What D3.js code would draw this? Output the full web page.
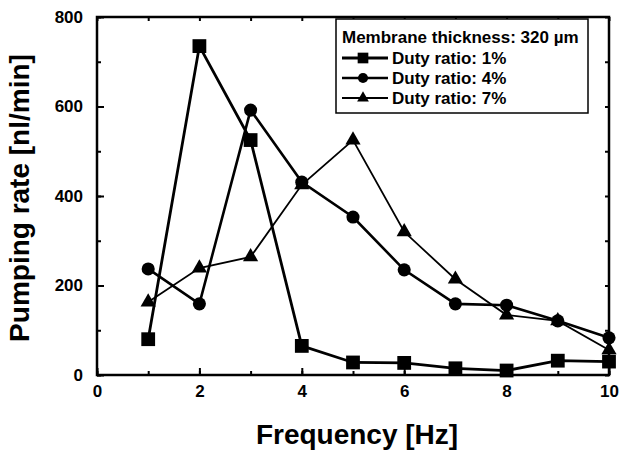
<!DOCTYPE html>
<html>
<head>
<meta charset="utf-8">
<script src="https://cdn.jsdelivr.net/npm/d3@7"></script>
<style>
  body { margin: 0; background: #fff; }
  text { font-family: "Liberation Sans", Arial, sans-serif; font-weight: bold; fill: #000; }
</style>
</head>
<body>
<div id="chart"></div>
<script>
// frequency values [Hz]
var frequency = [1, 2, 3, 4, 5, 6, 7, 8, 9, 10];
// pumping rate [nl/min] for each duty ratio
var duty1 = [80, 735, 525, 65, 28, 27, 15, 10, 32, 30];
var duty4 = [237, 159, 592, 431, 353, 235, 159, 156, 121, 83];
var duty7 = [163, 239, 264, 425, 525, 320, 214, 134, 121, 56];
var seriesNames = ["Duty ratio: 1%", "Duty ratio: 4%", "Duty ratio: 7%"];
var legendTitle = "Membrane thickness: 320 \u00b5m";
var xTicks = [0, 2, 4, 6, 8, 10];
var yTicks = [0, 200, 400, 600, 800];

var margin = { top: 17, right: 11, bottom: 75, left: 97 };
var width = 620 - margin.left - margin.right,
    height = 450 - margin.top - margin.bottom;

var svg = d3.select("#chart").append("svg")
    .attr("width", 620)
    .attr("height", 450)
  .append("g")
    .attr("transform", "translate(" + margin.left + "," + margin.top + ")");

var x = d3.scaleLinear().domain([0, 10]).range([0, width]);
var y = d3.scaleLinear().domain([0, 800]).range([height, 0]);

// inward ticks, minor every 1 Hz / 100 nl/min
var minorX = d3.range(0, 10.01, 1), minorY = d3.range(0, 801, 100);
function tickAxis(axis, vals, size, tf) {
  var g = svg.append("g").attr("transform", tf)
    .call(axis.tickValues(vals).tickSize(size).tickFormat(""));
  g.select(".domain").remove();
  g.selectAll("line").attr("stroke", "#000").attr("stroke-width", 2);
  return g;
}
tickAxis(d3.axisTop(x), minorX, 4, "translate(0," + height + ")");
tickAxis(d3.axisBottom(x), minorX, 4, "translate(0,0)");
tickAxis(d3.axisRight(y), minorY, 4, "translate(0,0)");
tickAxis(d3.axisLeft(y), minorY, 4, "translate(" + width + ",0)");
tickAxis(d3.axisTop(x), xTicks, 7, "translate(0," + height + ")");
tickAxis(d3.axisRight(y), yTicks, 7, "translate(0,0)");

// tick labels
var xg = svg.append("g").attr("transform", "translate(0," + height + ")")
  .call(d3.axisBottom(x).tickValues(xTicks).tickSize(0).tickPadding(10));
xg.select(".domain").remove();
xg.selectAll("text").style("font-size", "17px").style("font-family", "Liberation Sans, Arial").style("font-weight", "bold");

var yg = svg.append("g")
  .call(d3.axisLeft(y).tickValues(yTicks).tickSize(0).tickPadding(14));
yg.select(".domain").remove();
yg.selectAll("text").style("font-size", "17px").style("font-family", "Liberation Sans, Arial").style("font-weight", "bold");

// frame
svg.append("rect")
  .attr("width", width).attr("height", height)
  .attr("fill", "none").attr("stroke", "#000").attr("stroke-width", 2.5);

// axis titles
svg.append("text")
  .attr("x", width / 2 + 4).attr("y", height + 69)
  .attr("text-anchor", "middle")
  .style("font-size", "28px")
  .text("Frequency [Hz]");
svg.append("text")
  .attr("transform", "translate(-68," + (height / 2 + 2) + ") rotate(-90)")
  .attr("text-anchor", "middle")
  .style("font-size", "28px")
  .text("Pumping rate [nl/min]");

var allSeries = [duty1, duty4, duty7];
var shapes = [d3.symbolSquare, d3.symbolCircle, d3.symbolTriangle];
var sizes = [190, 135, 100];
var widths = [2.8, 2.6, 1.8];

var line = d3.line()
  .x(function(d, i) { return x(frequency[i]); })
  .y(function(d) { return y(d); });

allSeries.forEach(function(s, k) {
  svg.append("path").datum(s)
    .attr("d", line)
    .attr("fill", "none").attr("stroke", "#000").attr("stroke-width", widths[k]);
  svg.selectAll(".pt" + k).data(s).enter().append("path")
    .attr("class", "pt" + k)
    .attr("transform", function(d, i) { return "translate(" + x(frequency[i]) + "," + y(d) + ")"; })
    .attr("d", d3.symbol().type(shapes[k]).size(sizes[k]))
    .attr("fill", "#000");
});

// legend
var lg = svg.append("g").attr("transform", "translate(" + (336 - margin.left) + "," + (19 - margin.top) + ")");
lg.append("rect").attr("width", 252).attr("height", 94)
  .attr("fill", "#fff").attr("stroke", "#000").attr("stroke-width", 1.5);
lg.append("text").attr("x", 6).attr("y", 24).style("font-size", "17px").text(legendTitle);
seriesNames.forEach(function(name, k) {
  var cy = 39 + k * 20;
  lg.append("line").attr("x1", 6).attr("x2", 52).attr("y1", cy).attr("y2", cy)
    .attr("stroke", "#000").attr("stroke-width", widths[k]);
  lg.append("path").attr("transform", "translate(27," + cy + ")")
    .attr("d", d3.symbol().type(shapes[k]).size(sizes[k] * 0.6))
    .attr("fill", "#000");
  lg.append("text").attr("x", 56).attr("y", cy + 6).style("font-size", "17px").text(name);
});
</script>
</body>
</html>
